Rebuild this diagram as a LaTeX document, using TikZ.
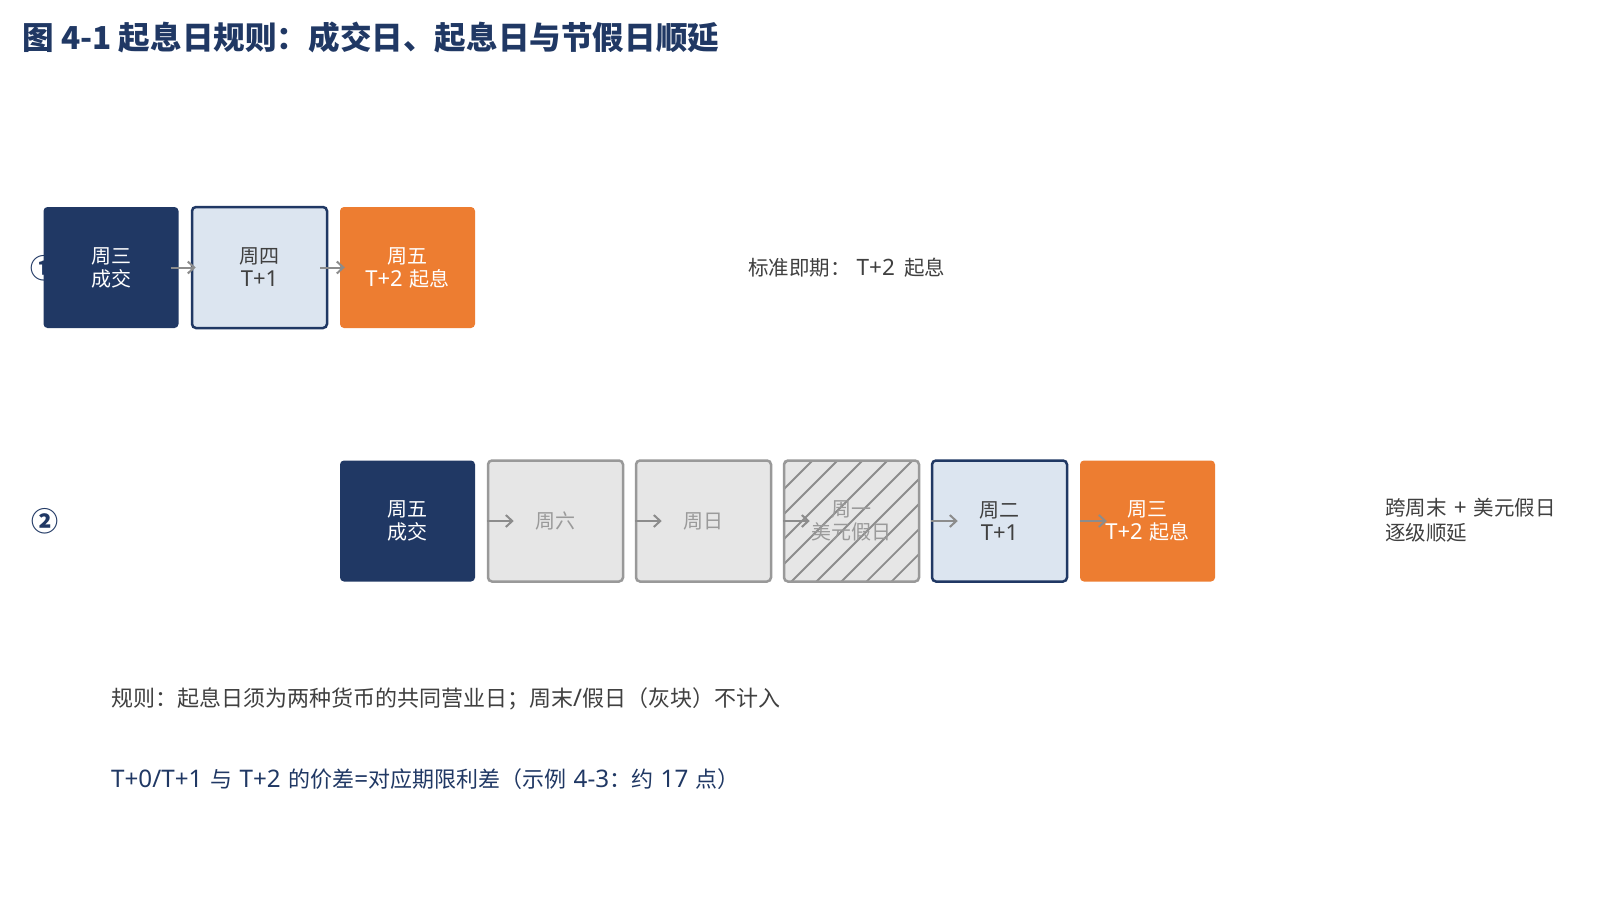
\documentclass[tikz,border=0pt]{standalone}
\usepackage{fontspec}
\setmainfont{Noto Sans CJK SC}
\newfontfamily\latfont{Noto Sans}[Scale=1.1,WordSpace=1.2]
\newcommand\la[1]{{\latfont #1}}
\usetikzlibrary{arrows.meta}
\definecolor{navy}{HTML}{203864}
\definecolor{orng}{HTML}{ED7D31}
\definecolor{lblue}{HTML}{DCE5F0}
\definecolor{lgray}{HTML}{E6E6E6}
\definecolor{gborder}{HTML}{999999}
\definecolor{gtext}{HTML}{9A9A9A}
\definecolor{dtext}{HTML}{404040}
\definecolor{arrgray}{HTML}{8C8C8C}
\tikzset{
  day/.style={minimum width=135pt,minimum height=121pt,rounded corners=4pt,align=center,
    font=\fontsize{20}{23}\selectfont,inner sep=0pt},
  tradebox/.style={day,fill=navy,text=white},
  nextbox/.style={day,fill=lblue,draw=navy,line width=2.5pt,text=dtext},
  valuebox/.style={day,fill=orng,text=white},
  offbox/.style={day,fill=lgray,draw=gborder,line width=2.5pt,text=gtext},
  flow/.style={draw=arrgray,line width=2pt,-{Straight Barb[length=6.5pt,width=12pt]}},
  hatch/.style={draw=arrgray,line width=1.8pt},
  lbl/.style={anchor=west,inner sep=0pt,font=\fontsize{20.5}{25}\selectfont,text=dtext,align=left},
  note/.style={anchor=west,inner sep=0pt,font=\fontsize{22}{25}\selectfont,text=dtext},
  num/.style={font=\fontsize{27}{27}\selectfont\bfseries,text=navy,inner sep=0pt}
}
\begin{document}
\begin{tikzpicture}[x=1pt,y=-1pt]
\useasboundingbox (0,0) rectangle (1600,900);
\fill[white] (0,0) rectangle (1600,900);

% title
\node[anchor=west,inner sep=0pt,font=\fontsize{31.6}{32}\selectfont\bfseries,text=navy] (title) at (22,37)
  {图 4-1 起息日规则：成交日、起息日与节假日顺延};

% row 1
\node[num] (n1) at (44,268) {①};
\node[tradebox] (a1) at (111,267.5) {周三\\成交};
\node[nextbox] (a2) at (259.5,267.5) {周四\\\la{T+1}};
\node[valuebox] (a3) at (407.5,267.5) {周五\\\la{T+2 }起息};
\draw[flow] ([xshift=-8pt]a1.east) -- ([xshift=5pt]a2.west);
\draw[flow] ([xshift=-8pt]a2.east) -- ([xshift=5pt]a3.west);
\node[lbl] (l1) at (748,268) {标准即期：\hspace{6pt}\la{T+2}\hspace{9pt}起息};

% row 2
\node[num] (n2) at (44.5,521) {②};
\node[tradebox] (b1) at (407.5,521) {周五\\成交};
\node[offbox] (b2) at (555.5,521) {周六};
\node[offbox] (b3) at (703.5,521) {周日};
\node[day,fill=lgray] (b4) at (851.5,521) {};
\begin{scope}
  \clip[rounded corners=4pt] (b4.south west) rectangle (b4.north east);
  \foreach \k in {-2,...,10} {
    \draw[hatch] ({1273+25*\k-601},601) -- ({1273+25*\k-441},441);
  }
\end{scope}
\node[offbox,fill=none] (b4t) at (b4.center) {周一\\美元假日};
\node[nextbox] (b5) at (999.5,521) {周二\\\la{T+1}};
\node[valuebox] (b6) at (1147.5,521) {周三\\\la{T+2 }起息};
\draw[flow] (b2.west) -- ([xshift=27pt]b2.west);
\draw[flow] (b3.west) -- ([xshift=27pt]b3.west);
\draw[flow] (b4t.west) -- ([xshift=27pt]b4t.west);
\draw[flow] (b5.west) -- ([xshift=27pt]b5.west);
\draw[flow] (b6.west) -- ([xshift=27pt]b6.west);
\node[lbl] (l2) at (1385,520) {跨周末\la{ + }美元假日\\逐级顺延};

% notes
\node[note] (r1) at (111,699) {规则：起息日须为两种货币的共同营业日；周末\la{/}假日（灰块）不计入};
\node[note,text=navy] (r2) at (111,779) {\la{T+0/T+1 }与\la{ T+2 }的价差\la{=}对应期限利差（示例\la{ 4-3}：约\la{ 17 }点）};
\end{tikzpicture}
\end{document}
